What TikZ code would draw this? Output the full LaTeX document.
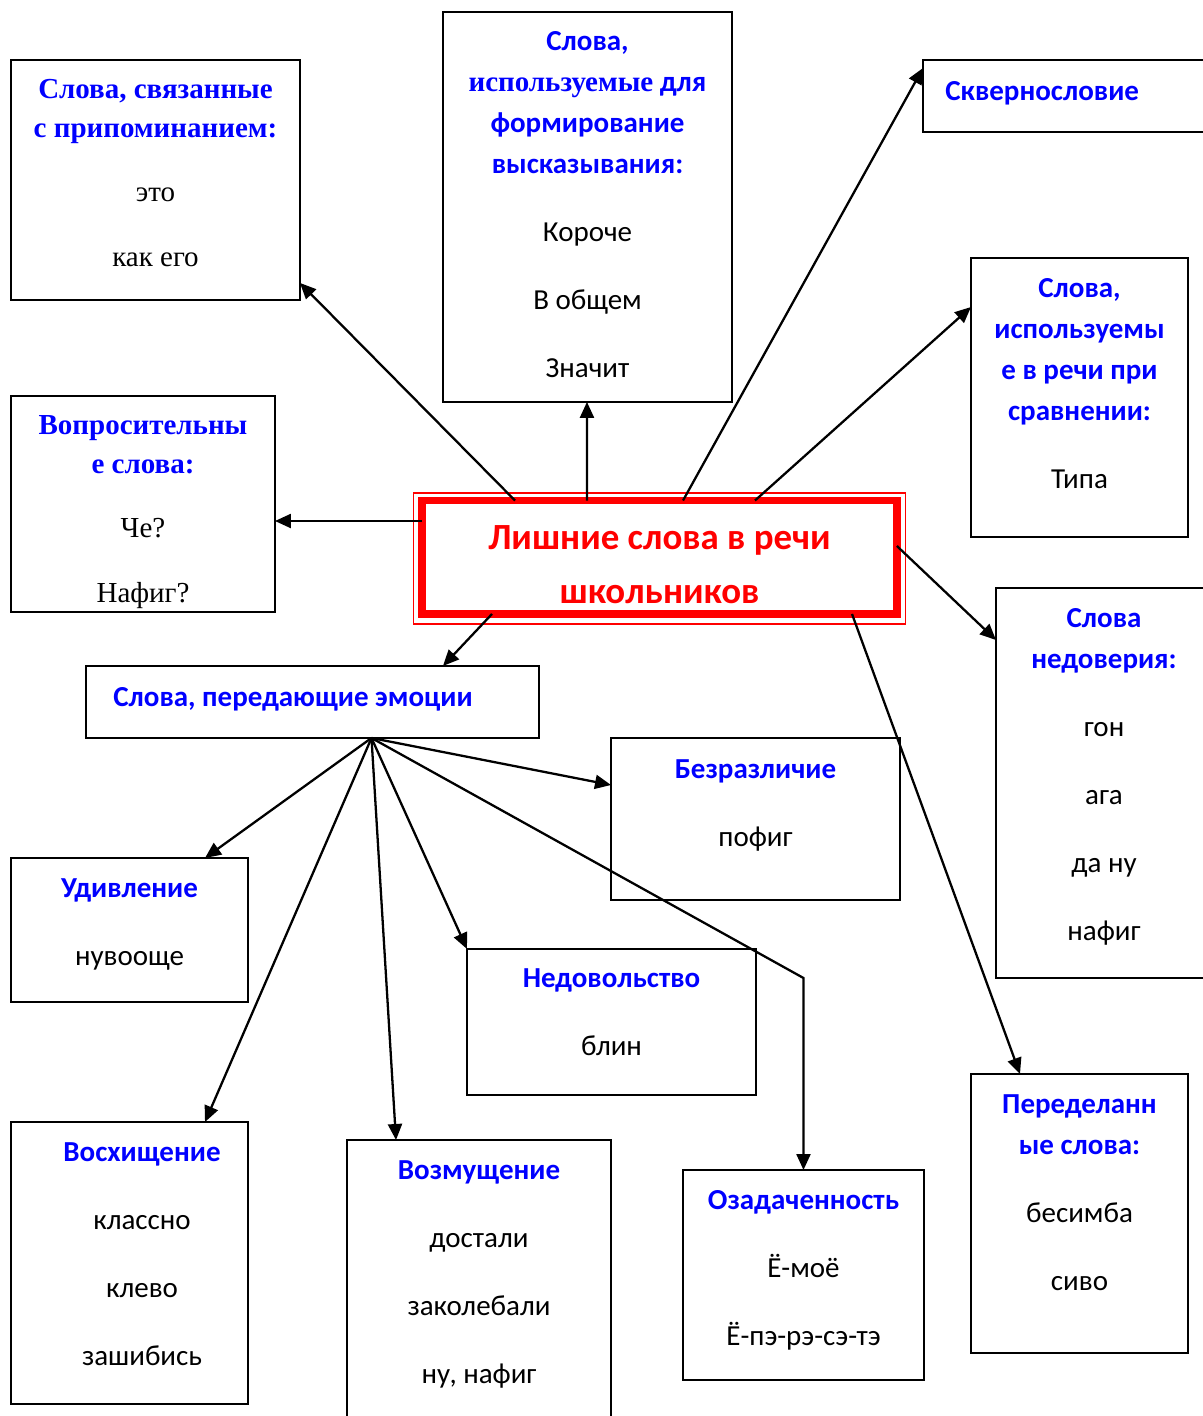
\documentclass[tikz,border=0pt]{standalone}
\usepackage{fontspec}
\setmainfont{Carlito}
\newfontfamily\timesfont{Liberation Serif}
\usetikzlibrary{arrows.meta}
\newcommand{\hdr}[1]{\textcolor{blue}{\bfseries #1}}

\begin{document}
\begin{tikzpicture}[x=0.02cm,y=-0.02cm,
  box/.style={draw=black,line width=1.1pt,anchor=north west,inner sep=0pt,outer sep=0pt},
  txt/.style={anchor=north,align=center,inner sep=0pt,font=\fontsize{16.5}{23.3}\selectfont},
  stxt/.style={anchor=north,align=center,inner sep=0pt,font=\timesfont\fontsize{16.5}{22.2}\selectfont},
  arr/.style={-{Triangle[length=0.32cm,width=0.28cm]},line width=1.3pt}]
\useasboundingbox (0,0) rectangle (1203,1416);

% top row
\node[box,minimum width=5.78cm,minimum height=4.8cm] (recall) at (11,60) {};
\node[stxt] (recall-t) at (155.5,70.7) {\strut\hdr{Слова, связанные}\\\hdr{с припоминанием:}\\[14.2pt]это\\[14.8pt]как его};
\node[box,minimum width=5.78cm,minimum height=7.8cm] (form) at (443,12) {};
\node[txt] (form-t) at (587.5,21.3) {\strut\hdr{Слова,}\\\hdr{{\timesfont используемые} для}\\\hdr{формирование}\\\hdr{высказывания:}\\[15.4pt]Короче\\[15.4pt]В общем\\[15.4pt]Значит};
\node[box,minimum width=5.8cm,minimum height=1.44cm] (skv) at (923,60) {};
\node[txt,anchor=north west] (skv-t) at (945,71) {\strut\hdr{Сквернословие}};
\node[box,minimum width=4.34cm,minimum height=5.58cm] (compar) at (971,258) {};
\node[txt] (compar-t) at (1079.5,268.3) {\strut\hdr{Слова,}\\\hdr{используемы}\\\hdr{е в речи при}\\\hdr{сравнении:}\\[15.4pt]Типа};
\node[box,minimum width=5.28cm,minimum height=4.32cm] (quest) at (11,396) {};
\node[stxt] (quest-t) at (143,406.5) {\strut\hdr{Вопросительны}\\\hdr{е слова:}\\[14.5pt]Че?\\[14.8pt]Нафиг?};

% centre
\node[box,draw=red,line width=0.8pt,minimum width=9.84cm,minimum height=2.62cm] (rim) at (413.5,493) {};
\node[box,draw=red,line width=0.15cm,minimum width=9.5cm,minimum height=2.27cm] (main) at (422,500.5) {};
\node[anchor=north,align=center,inner sep=0pt,text=red,font=\bfseries\fontsize{21}{30.4}\selectfont] (title) at (659.5,512) {\strut Лишние слова в речи\\школьников};

\node[box,minimum width=4.32cm,minimum height=7.8cm] (distrust) at (996,588) {};
\node[txt] (distrust-t) at (1104,598.3) {\strut\hdr{Слова}\\\hdr{недоверия:}\\[15.4pt]гон\\[15.4pt]ага\\[15.4pt]да ну\\[15.4pt]нафиг};
\node[box,minimum width=9.06cm,minimum height=1.44cm] (emo) at (86,666) {};
\node[txt,anchor=north west] (emo-t) at (113,677) {\strut\hdr{Слова, передающие эмоции}};

% emotions
\node[box,minimum width=5.78cm,minimum height=3.24cm] (indiff) at (611,738) {};
\node[txt] (indiff-t) at (755.5,749) {\strut\hdr{Безразличие}\\[15.4pt]пофиг};
\node[box,minimum width=4.74cm,minimum height=2.88cm] (surpr) at (11,858) {};
\node[txt] (surpr-t) at (129.5,868.3) {\strut\hdr{Удивление}\\[15.4pt]нувооще};
\node[box,minimum width=5.78cm,minimum height=2.92cm] (displ) at (467,949) {};
\node[txt] (displ-t) at (611.5,958.3) {\strut\hdr{Недовольство}\\[15.4pt]блин};
\node[box,minimum width=4.34cm,minimum height=5.58cm] (remade) at (971,1074) {};
\node[txt] (remade-t) at (1079.5,1084.3) {\strut\hdr{Переделанн}\\\hdr{ые слова:}\\[15.4pt]бесимба\\[15.4pt]сиво};
\node[box,minimum width=4.74cm,minimum height=5.64cm] (admir) at (11,1122) {};
\node[txt] (admir-t) at (142,1132.3) {\strut\hdr{Восхищение}\\[15.4pt]классно\\[15.4pt]клево\\[15.4pt]зашибись};
\node[box,minimum width=5.28cm,minimum height=5.8cm] (indign) at (347,1140) {};
\node[txt] (indign-t) at (479,1150.3) {\strut\hdr{Возмущение}\\[15.4pt]достали\\[15.4pt]заколебали\\[15.4pt]ну, нафиг};
\node[box,minimum width=4.82cm,minimum height=4.2cm] (puzzl) at (683,1170) {};
\node[txt] (puzzl-t) at (803.5,1180.3) {\strut\hdr{Озадаченность}\\[15.4pt]Ё-моё\\[15.4pt]Ё-пэ-рэ-сэ-тэ};

% connectors
\draw[arr] ([shift={(93,0)}]main.north west) -- ([shift={(0,-17)}]recall.south east);
\draw[arr] ([shift={(165,0)}]main.north west) -- ([shift={(-0.5,0)}]form.south);
\draw[arr] ([shift={(261,0)}]main.north west) -- ([shift={(0,8)}]skv.north west);
\draw[arr] ([shift={(333,0)}]main.north west) -- ([shift={(0,49)}]compar.north west);
\coordinate (qs) at ([shift={(0,20.5)}]main.north west);
\draw[arr] (qs) -- (qs -| quest.east);
\draw[arr] ([shift={(0,45.5)}]main.north east) -- ([shift={(0,52)}]distrust.north west);
\draw[arr] ([shift={(70,0)}]main.south west) -- ([shift={(357,0)}]emo.north west);
\draw[arr] ([shift={(430,0)}]main.south west) -- ([shift={(49,0)}]remade.north west);
\coordinate (hub) at ([shift={(285.5,0)}]emo.south west);
\draw[arr] (hub) -- ([shift={(194,0)}]surpr.north west);
\draw[arr] (hub) -- ([shift={(0,47)}]indiff.north west);
\draw[arr] (hub) -- ([shift={(194,0)}]admir.north west);
\draw[arr] (hub) -- ([shift={(49,0)}]indign.north west);
\draw[arr] (hub) -- (displ.north west);
\draw[arr] (hub) -- ([shift={(0,-192)}]puzzl.north) -- (puzzl.north);
\end{tikzpicture}
\end{document}
